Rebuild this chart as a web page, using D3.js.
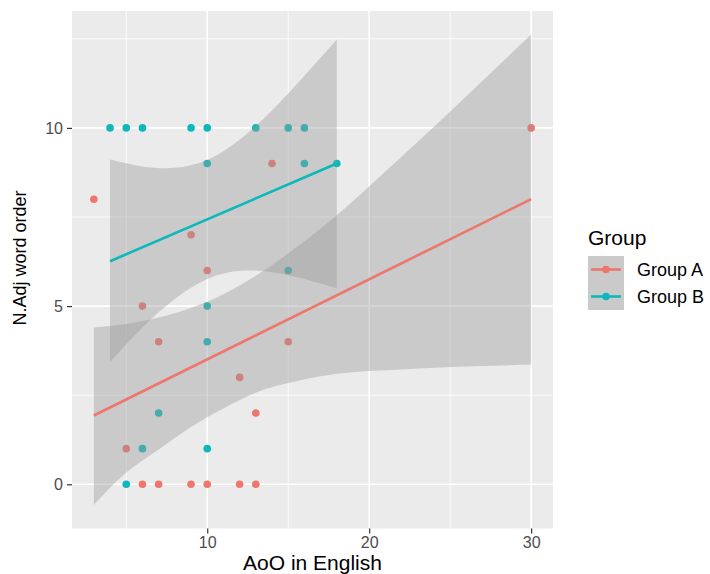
<!DOCTYPE html>
<html><head><meta charset="utf-8">
<script src="https://cdn.jsdelivr.net/npm/d3@7"></script>
<style>body{margin:0;background:#fff}svg{display:block}text{font-family:"Liberation Sans",Arial,sans-serif}</style>
</head><body>
<svg id="chart" width="710" height="574"></svg>
<script>
// ---- data ----
const groups = ["Group A", "Group B"];
const groupColors = ["#EE766D", "#0DB8BC"];

const groupA_x = [3, 5, 6, 6, 7, 7, 9, 9, 10, 10, 12, 12, 13, 13, 14, 15, 30];
const groupA_y = [8, 1, 5, 0, 4, 0, 7, 0, 6, 0, 3, 0, 2, 0, 9, 4, 10];
const groupB_x = [4, 5, 6, 9, 10, 13, 15, 16, 10, 16, 18, 15, 10, 10, 7, 6, 10, 5];
const groupB_y = [10, 10, 10, 10, 10, 10, 10, 10, 9, 9, 9, 6, 5, 4, 2, 1, 1, 0];

// fitted lines (lm) and their confidence bands
const fitA_x = [3, 30];
const fitA_y = [1.93, 8.0];
const fitB_x = [4, 18];
const fitB_y = [6.26, 9.0];

const bandA_x  = [3, 5, 7, 9, 11, 13, 15, 18, 21, 24, 27, 30];
const bandA_lo = [-0.58, 0.33, 0.98, 1.61, 2.13, 2.57, 2.84, 3.10, 3.20, 3.27, 3.32, 3.36];
const bandA_hi = [4.40, 4.50, 4.68, 4.95, 5.33, 5.85, 6.48, 7.55, 8.78, 10.03, 11.32, 12.62];

const bandB_x  = [4, 6, 8, 10, 12, 14, 16, 18];
const bandB_lo = [3.43, 4.40, 5.20, 5.76, 5.99, 5.95, 5.76, 5.50];
const bandB_hi = [9.11, 8.92, 8.88, 9.10, 9.67, 10.49, 11.46, 12.48];

const xTicks = [10, 20, 30];
const xMinor = [5, 15, 25];
const yTicks = [0, 5, 10];
const yMinor = [2.5, 7.5, 12.5];

const xTitle = "AoO in English";
const yTitle = "N.Adj word order";
const legendTitle = "Group";

// ---- build ----
const svg = d3.select("#chart");
const panel = {left: 72, right: 553, top: 11, bottom: 528.5};

const xExt = d3.extent(groupA_x.concat(groupB_x));
const xPad = (xExt[1] - xExt[0]) * 0.05;
const x = d3.scaleLinear().domain([xExt[0] - xPad, xExt[1] + xPad]).range([panel.left, panel.right]);

const yExt = d3.extent([].concat(groupA_y, groupB_y, bandA_lo, bandA_hi, bandB_lo, bandB_hi));
const yPad = (yExt[1] - yExt[0]) * 0.05;
const y = d3.scaleLinear().domain([yExt[0] - yPad, yExt[1] + yPad]).range([panel.bottom, panel.top]);

// panel
svg.append("rect").attr("x", panel.left).attr("y", panel.top)
  .attr("width", panel.right - panel.left).attr("height", panel.bottom - panel.top)
  .attr("fill", "#EBEBEB");

const grid = svg.append("g");
grid.selectAll(".xm").data(xMinor).join("line")
  .attr("x1", d => x(d)).attr("x2", d => x(d)).attr("y1", panel.top).attr("y2", panel.bottom)
  .attr("stroke", "#fff").attr("stroke-width", 0.8);
grid.selectAll(".ym").data(yMinor).join("line")
  .attr("y1", d => y(d)).attr("y2", d => y(d)).attr("x1", panel.left).attr("x2", panel.right)
  .attr("stroke", "#fff").attr("stroke-width", 0.8);
grid.selectAll(".xM").data(xTicks).join("line")
  .attr("x1", d => x(d)).attr("x2", d => x(d)).attr("y1", panel.top).attr("y2", panel.bottom)
  .attr("stroke", "#fff").attr("stroke-width", 1.6);
grid.selectAll(".yM").data(yTicks).join("line")
  .attr("y1", d => y(d)).attr("y2", d => y(d)).attr("x1", panel.left).attr("x2", panel.right)
  .attr("stroke", "#fff").attr("stroke-width", 1.6);

// points
const pts = [
  groupA_x.map((v, i) => ({x: v, y: groupA_y[i], g: 0})),
  groupB_x.map((v, i) => ({x: v, y: groupB_y[i], g: 1}))
].flat();
svg.append("g").selectAll("circle").data(pts).join("circle")
  .attr("cx", d => x(d.x)).attr("cy", d => y(d.y)).attr("r", 3.8)
  .attr("fill", d => groupColors[d.g]);

// smooths
const bands = [
  bandA_x.map((v, i) => ({x: v, lo: bandA_lo[i], hi: bandA_hi[i]})),
  bandB_x.map((v, i) => ({x: v, lo: bandB_lo[i], hi: bandB_hi[i]}))
];
const fits = [
  fitA_x.map((v, i) => ({x: v, y: fitA_y[i]})),
  fitB_x.map((v, i) => ({x: v, y: fitB_y[i]}))
];
const area = d3.area().x(d => x(d.x)).y0(d => y(d.lo)).y1(d => y(d.hi)).curve(d3.curveNatural);
const line = d3.line().x(d => x(d.x)).y(d => y(d.y));
const sm = svg.append("g");
groups.forEach((g, i) => {
  sm.append("path").attr("d", area(bands[i])).attr("fill", "#999999").attr("fill-opacity", 0.4);
  sm.append("path").attr("d", line(fits[i])).attr("fill", "none")
    .attr("stroke", groupColors[i]).attr("stroke-width", 2.6);
});

// axes
const xAxis = svg.append("g").attr("transform", `translate(0,${panel.bottom})`)
  .call(d3.axisBottom(x).tickValues(xTicks).tickSize(5).tickPadding(3).tickFormat(d3.format("d")));
const yAxis = svg.append("g").attr("transform", `translate(${panel.left},0)`)
  .call(d3.axisLeft(y).tickValues(yTicks).tickSize(5).tickPadding(4).tickFormat(d3.format("d")));
[xAxis, yAxis].forEach(a => {
  a.select(".domain").remove();
  a.selectAll(".tick line").attr("stroke", "#333333").attr("stroke-width", 1.2);
  a.selectAll(".tick text").attr("fill", "#4D4D4D").style("font-size", "16px")
    .style("font-family", "'Liberation Sans', Arial, sans-serif");
});

svg.append("text").attr("x", (panel.left + panel.right) / 2).attr("y", 570)
  .attr("text-anchor", "middle").attr("fill", "#000").style("font-size", "21px").text(xTitle);
svg.append("text").attr("transform", `translate(26,258) rotate(-90)`)
  .attr("text-anchor", "middle").attr("fill", "#000").style("font-size", "18px").text(yTitle);

// legend
const lg = svg.append("g");
lg.append("text").attr("x", 588).attr("y", 245).attr("fill", "#000").style("font-size", "21px").text(legendTitle);
const keyW = 36, keyH = 27, keyX = 588, keyY = 256;
groups.forEach((g, i) => {
  const ky = keyY + i * keyH;
  lg.append("rect").attr("x", keyX).attr("y", ky).attr("width", keyW).attr("height", keyH)
    .attr("fill", "#EBEBEB");
  lg.append("rect").attr("x", keyX).attr("y", ky).attr("width", keyW).attr("height", keyH)
    .attr("fill", "#999999").attr("fill-opacity", 0.4);
  lg.append("line").attr("x1", keyX + 3).attr("x2", keyX + keyW - 3)
    .attr("y1", ky + keyH / 2).attr("y2", ky + keyH / 2)
    .attr("stroke", groupColors[i]).attr("stroke-width", 2.6);
  lg.append("circle").attr("cx", keyX + keyW / 2).attr("cy", ky + keyH / 2).attr("r", 3.8)
    .attr("fill", groupColors[i]);
  lg.append("text").attr("x", 637).attr("y", ky + keyH / 2).attr("dy", "0.35em")
    .attr("fill", "#000").style("font-size", "18px").text(g);
});
</script>
</body></html>
